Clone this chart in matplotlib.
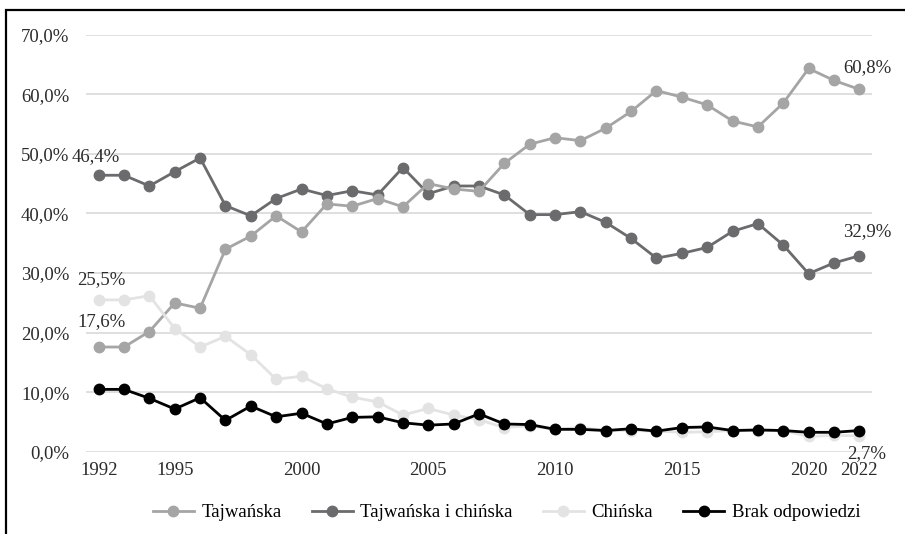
import matplotlib.pyplot as plt
from matplotlib.patches import Rectangle

years = list(range(1992, 2023))
tajwanska = [17.6, 17.6, 20.2, 25.0, 24.1, 34.0, 36.2, 39.6, 36.9, 41.6,
             41.2, 42.5, 41.1, 45.0, 44.1, 43.7, 48.4, 51.6, 52.7, 52.2,
             54.3, 57.1, 60.6, 59.5, 58.2, 55.5, 54.5, 58.5, 64.3, 62.3, 60.8]
obie = [46.4, 46.4, 44.6, 47.0, 49.3, 41.3, 39.6, 42.5, 44.1, 43.0,
        43.8, 43.1, 47.7, 43.3, 44.6, 44.6, 43.1, 39.8, 39.8, 40.3,
        38.5, 35.8, 32.5, 33.3, 34.3, 37.0, 38.3, 34.7, 29.9, 31.7, 32.9]
chinska = [25.5, 25.5, 26.2, 20.7, 17.6, 19.4, 16.3, 12.2, 12.7, 10.6,
           9.2, 8.4, 6.2, 7.3, 6.2, 5.4, 4.1, 4.4, 3.8, 4.1,
           3.6, 3.6, 3.5, 3.3, 3.4, 3.6, 3.6, 3.6, 2.6, 2.8, 2.7]
brak = [10.5, 10.5, 9.0, 7.2, 9.1, 5.3, 7.7, 5.9, 6.5, 4.7,
        5.8, 5.9, 4.9, 4.5, 4.7, 6.4, 4.7, 4.6, 3.8, 3.8,
        3.6, 3.9, 3.5, 4.1, 4.2, 3.6, 3.7, 3.6, 3.3, 3.3, 3.6]
series_names = ["Tajwańska", "Tajwańska i chińska", "Chińska", "Brak odpowiedzi"]
xtick_years = [1992, 1995, 2000, 2005, 2010, 2015, 2020, 2022]

plt.rcParams['font.family'] = ['Liberation Serif', 'DejaVu Serif']
FS = 13.5

fig = plt.figure(figsize=(9.05, 5.34), dpi=100)
ax = fig.add_axes([86/905, 1-452/534, (872-86)/905, (452-34.5)/534])

style = dict(lw=2.0, marker='o', ms=7.5, clip_on=False)
ax.plot(years, tajwanska, color='#a5a5a5', zorder=4, label=series_names[0], **style)
ax.plot(years, obie, color='#6b6b6d', zorder=3, label=series_names[1], **style)
ax.plot(years, chinska, color='#e3e3e3', zorder=5, label=series_names[2], **style)
ax.plot(years, brak, color='black', zorder=6, label=series_names[3], **style)

ax.set_xlim(1991.5, 2022.5)
ax.set_ylim(0, 70)
ax.set_yticks(range(0, 71, 10))
ax.set_yticklabels([f"{v},0%" for v in range(0, 71, 10)], fontsize=FS, color='#2b2b2b')
ax.set_xticks(xtick_years)
ax.set_xticklabels([str(y) for y in xtick_years], fontsize=FS, color='#2b2b2b')
ax.tick_params(length=0)
ax.tick_params(axis='x', pad=7)
ax.tick_params(axis='y', pad=12)
ax.grid(axis='y', color='#d9d9d9', lw=1.2)
ax.set_axisbelow(True)
for s in ax.spines.values():
    s.set_visible(False)

def lab(x, y, txt):
    ax.annotate(txt, (x, y), fontsize=FS, color='#2b2b2b', ha='center', va='center',
                annotation_clip=False)

lab(1991.9, 49.6, "46,4%")
lab(1992.1, 28.9, "25,5%")
lab(1992.1, 21.8, "17,6%")
lab(2022.3, 64.5, "60,8%")
lab(2022.3, 37.0, "32,9%")
lab(2022.3, -0.3, "2,7%")

ax.legend(loc='upper center', bbox_to_anchor=(0.535, -0.085), ncol=4, frameon=False,
          fontsize=FS, handlelength=2.2, columnspacing=1.6, handletextpad=0.4)

fig.add_artist(Rectangle((5.5/905, -0.1), 1.1, 1.1 - 10/534, transform=fig.transFigure,
                         fill=False, ec='black', lw=1.6))

fig.savefig("out.png", dpi=100)
